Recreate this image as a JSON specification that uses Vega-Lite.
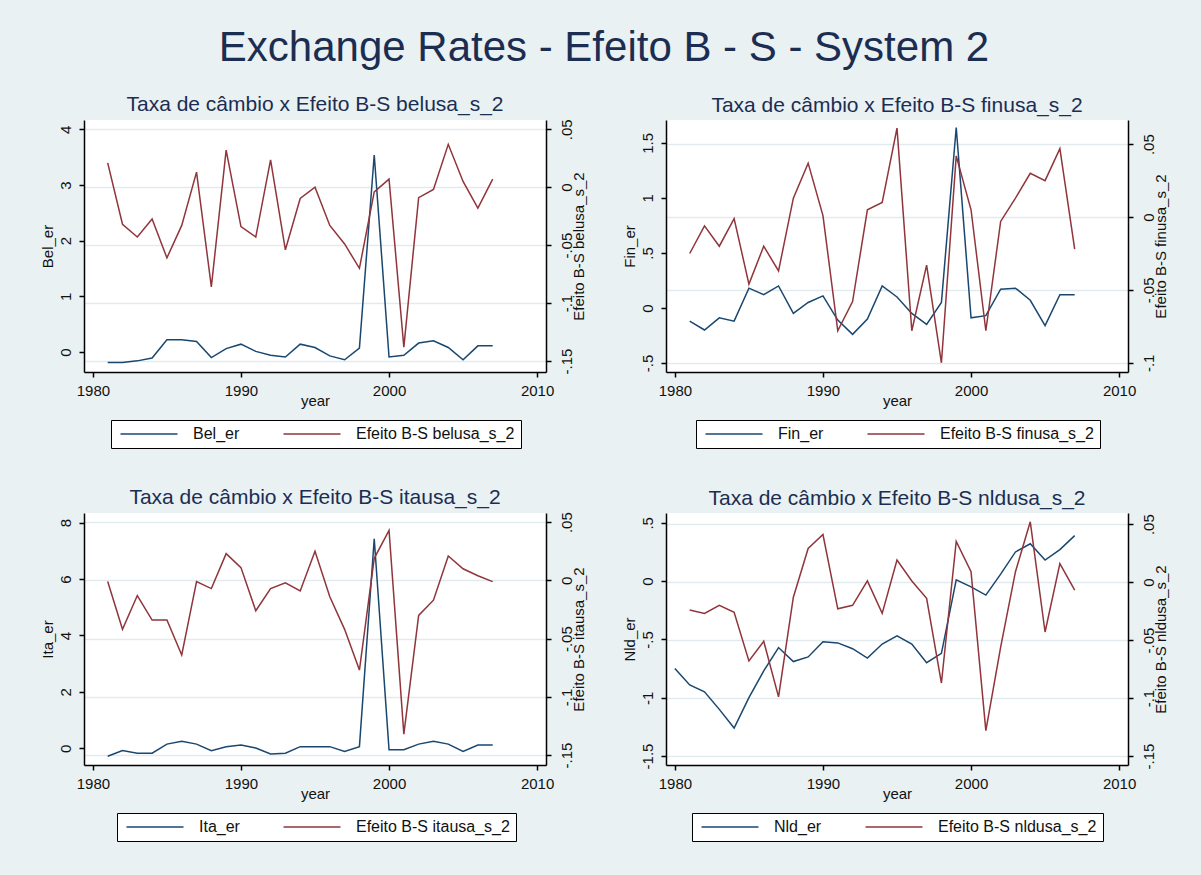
{
  "$schema": "https://vega.github.io/schema/vega-lite/v6.json",
  "background": "#e9f1f3",
  "padding": {"left": 40, "top": 26, "right": 60, "bottom": 40},
  "title": {"text": "Exchange Rates - Efeito B - S - System 2", "fontSize": 42, "font": "Liberation Sans", "fontWeight": "normal", "color": "#1c2d52", "anchor": "middle", "offset": 24},
  "datasets": {
    "bel": [
      {"year":1981,"er":-0.19,"bs":0.021},{"year":1982,"er":-0.19,"bs":-0.032},{"year":1983,"er":-0.16,"bs":-0.043},
      {"year":1984,"er":-0.11,"bs":-0.0275},{"year":1985,"er":0.22,"bs":-0.061},{"year":1986,"er":0.22,"bs":-0.033},
      {"year":1987,"er":0.19,"bs":0.013},{"year":1988,"er":-0.10,"bs":-0.086},{"year":1989,"er":0.06,"bs":0.032},
      {"year":1990,"er":0.14,"bs":-0.034},{"year":1991,"er":0.01,"bs":-0.043},{"year":1992,"er":-0.06,"bs":0.0235},
      {"year":1993,"er":-0.09,"bs":-0.054},{"year":1994,"er":0.14,"bs":-0.0097},{"year":1995,"er":0.08,"bs":0.0},
      {"year":1996,"er":-0.07,"bs":-0.033},{"year":1997,"er":-0.14,"bs":-0.049},{"year":1998,"er":0.07,"bs":-0.070},
      {"year":1999,"er":3.54,"bs":-0.004},{"year":2000,"er":-0.09,"bs":0.007},{"year":2001,"er":-0.06,"bs":-0.138},
      {"year":2002,"er":0.16,"bs":-0.009},{"year":2003,"er":0.20,"bs":-0.002},{"year":2004,"er":0.08,"bs":0.037},
      {"year":2005,"er":-0.14,"bs":0.005},{"year":2006,"er":0.11,"bs":-0.018},{"year":2007,"er":0.11,"bs":0.007}
    ],
    "fin": [
      {"year":1981,"er":-0.12,"bs":-0.025},{"year":1982,"er":-0.20,"bs":-0.006},{"year":1983,"er":-0.09,"bs":-0.020},
      {"year":1984,"er":-0.12,"bs":-0.001},{"year":1985,"er":0.18,"bs":-0.046},{"year":1986,"er":0.12,"bs":-0.020},
      {"year":1987,"er":0.20,"bs":-0.037},{"year":1988,"er":-0.05,"bs":0.013},{"year":1989,"er":0.05,"bs":0.037},
      {"year":1990,"er":0.11,"bs":0.001},{"year":1991,"er":-0.11,"bs":-0.078},{"year":1992,"er":-0.24,"bs":-0.058},
      {"year":1993,"er":-0.10,"bs":0.005},{"year":1994,"er":0.20,"bs":0.010},{"year":1995,"er":0.10,"bs":0.061},
      {"year":1996,"er":-0.05,"bs":-0.078},{"year":1997,"er":-0.15,"bs":-0.033},{"year":1998,"er":0.05,"bs":-0.100},
      {"year":1999,"er":1.64,"bs":0.042},{"year":2000,"er":-0.09,"bs":0.005},{"year":2001,"er":-0.07,"bs":-0.078},
      {"year":2002,"er":0.17,"bs":-0.003},{"year":2003,"er":0.18,"bs":0.013},{"year":2004,"er":0.07,"bs":0.030},
      {"year":2005,"er":-0.16,"bs":0.025},{"year":2006,"er":0.12,"bs":0.047},{"year":2007,"er":0.12,"bs":-0.022}
    ],
    "ita": [
      {"year":1981,"er":-0.28,"bs":-0.001},{"year":1982,"er":-0.08,"bs":-0.042},{"year":1983,"er":-0.17,"bs":-0.013},
      {"year":1984,"er":-0.17,"bs":-0.034},{"year":1985,"er":0.15,"bs":-0.034},{"year":1986,"er":0.25,"bs":-0.064},
      {"year":1987,"er":0.15,"bs":-0.001},{"year":1988,"er":-0.08,"bs":-0.007},{"year":1989,"er":0.06,"bs":0.023},
      {"year":1990,"er":0.12,"bs":0.011},{"year":1991,"er":0.01,"bs":-0.026},{"year":1992,"er":-0.20,"bs":-0.007},
      {"year":1993,"er":-0.17,"bs":-0.002},{"year":1994,"er":0.06,"bs":-0.009},{"year":1995,"er":0.06,"bs":0.025},
      {"year":1996,"er":0.06,"bs":-0.014},{"year":1997,"er":-0.11,"bs":-0.042},{"year":1998,"er":0.06,"bs":-0.077},
      {"year":1999,"er":7.43,"bs":0.019},{"year":2000,"er":-0.05,"bs":0.043},{"year":2001,"er":-0.05,"bs":-0.132},
      {"year":2002,"er":0.15,"bs":-0.030},{"year":2003,"er":0.25,"bs":-0.017},{"year":2004,"er":0.15,"bs":0.021},
      {"year":2005,"er":-0.11,"bs":0.010},{"year":2006,"er":0.12,"bs":0.004},{"year":2007,"er":0.12,"bs":-0.001}
    ],
    "nld": [
      {"year":1980,"er":-0.75,"bs":null},
      {"year":1981,"er":-0.89,"bs":-0.024},{"year":1982,"er":-0.95,"bs":-0.027},{"year":1983,"er":-1.10,"bs":-0.020},
      {"year":1984,"er":-1.26,"bs":-0.026},{"year":1985,"er":-1.00,"bs":-0.068},{"year":1986,"er":-0.77,"bs":-0.051},
      {"year":1987,"er":-0.57,"bs":-0.099},{"year":1988,"er":-0.69,"bs":-0.013},{"year":1989,"er":-0.65,"bs":0.029},
      {"year":1990,"er":-0.52,"bs":0.041},{"year":1991,"er":-0.53,"bs":-0.023},{"year":1992,"er":-0.58,"bs":-0.020},
      {"year":1993,"er":-0.66,"bs":0.001},{"year":1994,"er":-0.54,"bs":-0.027},{"year":1995,"er":-0.47,"bs":0.019},
      {"year":1996,"er":-0.54,"bs":0.001},{"year":1997,"er":-0.70,"bs":-0.014},{"year":1998,"er":-0.62,"bs":-0.087},
      {"year":1999,"er":0.01,"bs":0.035},{"year":2000,"er":-0.05,"bs":0.009},{"year":2001,"er":-0.12,"bs":-0.128},
      {"year":2002,"er":0.06,"bs":-0.056},{"year":2003,"er":0.25,"bs":0.009},{"year":2004,"er":0.32,"bs":0.052},
      {"year":2005,"er":0.18,"bs":-0.043},{"year":2006,"er":0.27,"bs":0.016},{"year":2007,"er":0.39,"bs":-0.007}
    ]
  },
  "columns": 2,
  "spacing": {"row": 141, "column": 120},
  "bounds": "flush",
  "resolve": {"scale": {"color": "independent"}, "legend": {"color": "independent"}},
  "concat": [
    {
      "title": {"text": "Taxa de câmbio x Efeito B-S belusa_s_2", "fontSize": 21, "offset": 4},
      "width": 462, "height": 252,
      "data": {"name": "bel"},
      "encoding": {"x": {"field": "year", "type": "quantitative", "scale": {"domain": [1979.4, 2010.6], "nice": false, "zero": false},
        "axis": {"values": [1980, 1990, 2000, 2010], "format": "d", "title": "year", "labelPadding": 6, "titleX": 231, "titleY": 33, "titleBaseline": "alphabetic", "labelFlush": false, "labelOverlap": false}}},
      "layer": [
        {"mark": {"type": "line", "strokeWidth": 1.5},
         "encoding": {
           "y": {"field": "er", "type": "quantitative", "scale": {"domain": [-0.36, 4.168], "nice": false, "zero": false},
             "axis": {"orient": "left", "values": [0, 1, 2, 3, 4], "labelExpr": "(datum.value < 0 ? '-' : '') + replace(toString(abs(datum.value)), '0.', '.')", "labelAngle": 270, "labelAlign": "center", "labelBaseline": "middle", "labelPadding": 14, "title": "Bel_er", "titleAngle": 270, "titleX": -37, "titleY": 126, "titleAlign": "center", "titleBaseline": "middle", "grid": false}},
           "color": {"datum": "Bel_er", "type": "nominal", "scale": {"domain": ["Bel_er", "Efeito B-S belusa_s_2"], "range": ["#1a476f", "#90353b"]},
             "legend": {"orient": "none", "legendX": 27, "legendY": 300, "direction": "horizontal", "title": null, "symbolType": "M-5,0H5", "symbolSize": 130, "symbolOffset": 24, "symbolStrokeWidth": 1.5, "labelFontSize": 16, "labelColor": "#111", "labelOffset": 36, "columnPadding": 40, "padding": 6, "strokeColor": "black", "fillColor": "white", "labelLimit": 300}}
         }},
        {"mark": {"type": "line", "strokeWidth": 1.5},
         "encoding": {
           "y": {"field": "bs", "type": "quantitative", "scale": {"domain": [-0.1595, 0.058], "nice": false, "zero": false},
             "axis": {"orient": "right", "values": [0.05, 0, -0.05, -0.1, -0.15], "labelExpr": "(datum.value < 0 ? '-' : '') + replace(toString(abs(datum.value)), '0.', '.')", "labelAngle": 270, "labelAlign": "center", "labelBaseline": "middle", "labelPadding": 15, "title": "Efeito B-S belusa_s_2", "titleAngle": 270, "titleX": 32, "titleY": 126, "titleAlign": "center", "titleBaseline": "middle", "grid": true, "gridColor": "#e1ebef", "gridWidth": 1.5}},
           "color": {"datum": "Efeito B-S belusa_s_2", "type": "nominal"}
         }}
      ],
      "resolve": {"scale": {"y": "independent"}}
    },
    {
      "title": {"text": "Taxa de câmbio x Efeito B-S finusa_s_2", "fontSize": 21, "offset": 4},
      "width": 462, "height": 252,
      "data": {"name": "fin"},
      "encoding": {"x": {"field": "year", "type": "quantitative", "scale": {"domain": [1979.4, 2010.6], "nice": false, "zero": false},
        "axis": {"values": [1980, 1990, 2000, 2010], "format": "d", "title": "year", "labelPadding": 6, "titleX": 231, "titleY": 33, "titleBaseline": "alphabetic", "labelFlush": false, "labelOverlap": false}}},
      "layer": [
        {"mark": {"type": "line", "strokeWidth": 1.5},
         "encoding": {
           "y": {"field": "er", "type": "quantitative", "scale": {"domain": [-0.582, 1.708], "nice": false, "zero": false},
             "axis": {"orient": "left", "values": [-0.5, 0, 0.5, 1, 1.5], "labelExpr": "(datum.value < 0 ? '-' : '') + replace(toString(abs(datum.value)), '0.', '.')", "labelAngle": 270, "labelAlign": "center", "labelBaseline": "middle", "labelPadding": 14, "title": "Fin_er", "titleAngle": 270, "titleX": -37, "titleY": 126, "titleAlign": "center", "titleBaseline": "middle", "grid": false}},
           "color": {"datum": "Fin_er", "type": "nominal", "scale": {"domain": ["Fin_er", "Efeito B-S finusa_s_2"], "range": ["#1a476f", "#90353b"]},
             "legend": {"orient": "none", "legendX": 30, "legendY": 300, "direction": "horizontal", "title": null, "symbolType": "M-5,0H5", "symbolSize": 130, "symbolOffset": 24, "symbolStrokeWidth": 1.5, "labelFontSize": 16, "labelColor": "#111", "labelOffset": 36, "columnPadding": 40, "padding": 6, "strokeColor": "black", "fillColor": "white", "labelLimit": 300}}
         }},
        {"mark": {"type": "line", "strokeWidth": 1.5},
         "encoding": {
           "y": {"field": "bs", "type": "quantitative", "scale": {"domain": [-0.1063, 0.0666], "nice": false, "zero": false},
             "axis": {"orient": "right", "values": [0.05, 0, -0.05, -0.1], "labelExpr": "(datum.value < 0 ? '-' : '') + replace(toString(abs(datum.value)), '0.', '.')", "labelAngle": 270, "labelAlign": "center", "labelBaseline": "middle", "labelPadding": 15, "title": "Efeito B-S finusa_s_2", "titleAngle": 270, "titleX": 32, "titleY": 126, "titleAlign": "center", "titleBaseline": "middle", "grid": true, "gridColor": "#e1ebef", "gridWidth": 1.5}},
           "color": {"datum": "Efeito B-S finusa_s_2", "type": "nominal"}
         }}
      ],
      "resolve": {"scale": {"y": "independent"}}
    },
    {
      "title": {"text": "Taxa de câmbio x Efeito B-S itausa_s_2", "fontSize": 21, "offset": 4},
      "width": 462, "height": 252,
      "data": {"name": "ita"},
      "encoding": {"x": {"field": "year", "type": "quantitative", "scale": {"domain": [1979.4, 2010.6], "nice": false, "zero": false},
        "axis": {"values": [1980, 1990, 2000, 2010], "format": "d", "title": "year", "labelPadding": 6, "titleX": 231, "titleY": 33, "titleBaseline": "alphabetic", "labelFlush": false, "labelOverlap": false}}},
      "layer": [
        {"mark": {"type": "line", "strokeWidth": 1.5},
         "encoding": {
           "y": {"field": "er", "type": "quantitative", "scale": {"domain": [-0.59, 8.34], "nice": false, "zero": false},
             "axis": {"orient": "left", "values": [0, 2, 4, 6, 8], "labelExpr": "(datum.value < 0 ? '-' : '') + replace(toString(abs(datum.value)), '0.', '.')", "labelAngle": 270, "labelAlign": "center", "labelBaseline": "middle", "labelPadding": 14, "title": "Ita_er", "titleAngle": 270, "titleX": -37, "titleY": 126, "titleAlign": "center", "titleBaseline": "middle", "grid": false}},
           "color": {"datum": "Ita_er", "type": "nominal", "scale": {"domain": ["Ita_er", "Efeito B-S itausa_s_2"], "range": ["#1a476f", "#90353b"]},
             "legend": {"orient": "none", "legendX": 33, "legendY": 300, "direction": "horizontal", "title": null, "symbolType": "M-5,0H5", "symbolSize": 130, "symbolOffset": 24, "symbolStrokeWidth": 1.5, "labelFontSize": 16, "labelColor": "#111", "labelOffset": 36, "columnPadding": 40, "padding": 6, "strokeColor": "black", "fillColor": "white", "labelLimit": 300}}
         }},
        {"mark": {"type": "line", "strokeWidth": 1.5},
         "encoding": {
           "y": {"field": "bs", "type": "quantitative", "scale": {"domain": [-0.1585, 0.0579], "nice": false, "zero": false},
             "axis": {"orient": "right", "values": [0.05, 0, -0.05, -0.1, -0.15], "labelExpr": "(datum.value < 0 ? '-' : '') + replace(toString(abs(datum.value)), '0.', '.')", "labelAngle": 270, "labelAlign": "center", "labelBaseline": "middle", "labelPadding": 15, "title": "Efeito B-S itausa_s_2", "titleAngle": 270, "titleX": 32, "titleY": 126, "titleAlign": "center", "titleBaseline": "middle", "grid": true, "gridColor": "#e1ebef", "gridWidth": 1.5}},
           "color": {"datum": "Efeito B-S itausa_s_2", "type": "nominal"}
         }}
      ],
      "resolve": {"scale": {"y": "independent"}}
    },
    {
      "title": {"text": "Taxa de câmbio x Efeito B-S nldusa_s_2", "fontSize": 21, "offset": 4},
      "width": 462, "height": 252,
      "data": {"name": "nld"},
      "encoding": {"x": {"field": "year", "type": "quantitative", "scale": {"domain": [1979.4, 2010.6], "nice": false, "zero": false},
        "axis": {"values": [1980, 1990, 2000, 2010], "format": "d", "title": "year", "labelPadding": 6, "titleX": 231, "titleY": 33, "titleBaseline": "alphabetic", "labelFlush": false, "labelOverlap": false}}},
      "layer": [
        {"mark": {"type": "line", "strokeWidth": 1.5},
         "encoding": {
           "y": {"field": "er", "type": "quantitative", "scale": {"domain": [-1.577, 0.584], "nice": false, "zero": false},
             "axis": {"orient": "left", "values": [-1.5, -1, -0.5, 0, 0.5], "labelExpr": "(datum.value < 0 ? '-' : '') + replace(toString(abs(datum.value)), '0.', '.')", "labelAngle": 270, "labelAlign": "center", "labelBaseline": "middle", "labelPadding": 14, "title": "Nld_er", "titleAngle": 270, "titleX": -37, "titleY": 126, "titleAlign": "center", "titleBaseline": "middle", "grid": false}},
           "color": {"datum": "Nld_er", "type": "nominal", "scale": {"domain": ["Nld_er", "Efeito B-S nldusa_s_2"], "range": ["#1a476f", "#90353b"]},
             "legend": {"orient": "none", "legendX": 26, "legendY": 300, "direction": "horizontal", "title": null, "symbolType": "M-5,0H5", "symbolSize": 130, "symbolOffset": 24, "symbolStrokeWidth": 1.5, "labelFontSize": 16, "labelColor": "#111", "labelOffset": 36, "columnPadding": 40, "padding": 6, "strokeColor": "black", "fillColor": "white", "labelLimit": 300}}
         }},
        {"mark": {"type": "line", "strokeWidth": 1.5},
         "encoding": {
           "y": {"field": "bs", "type": "quantitative", "scale": {"domain": [-0.1577, 0.0596], "nice": false, "zero": false},
             "axis": {"orient": "right", "values": [0.05, 0, -0.05, -0.1, -0.15], "labelExpr": "(datum.value < 0 ? '-' : '') + replace(toString(abs(datum.value)), '0.', '.')", "labelAngle": 270, "labelAlign": "center", "labelBaseline": "middle", "labelPadding": 15, "title": "Efeito B-S nldusa_s_2", "titleAngle": 270, "titleX": 32, "titleY": 126, "titleAlign": "center", "titleBaseline": "middle", "grid": true, "gridColor": "#e1ebef", "gridWidth": 1.5}},
           "color": {"datum": "Efeito B-S nldusa_s_2", "type": "nominal"}
         }}
      ],
      "resolve": {"scale": {"y": "independent"}}
    }
  ],
  "config": {
    "font": "Liberation Sans",
    "view": {"fill": "white", "stroke": null},
    "axis": {"domainColor": "black", "domainWidth": 1.5, "tickColor": "black", "tickWidth": 1.5, "tickSize": 5, "labelFontSize": 15, "labelColor": "#111", "titleFontSize": 15, "titleFontWeight": "normal", "titleColor": "#111", "grid": false},
    "title": {"fontWeight": "normal", "color": "#1c2d52", "font": "Liberation Sans"}
  }
}
